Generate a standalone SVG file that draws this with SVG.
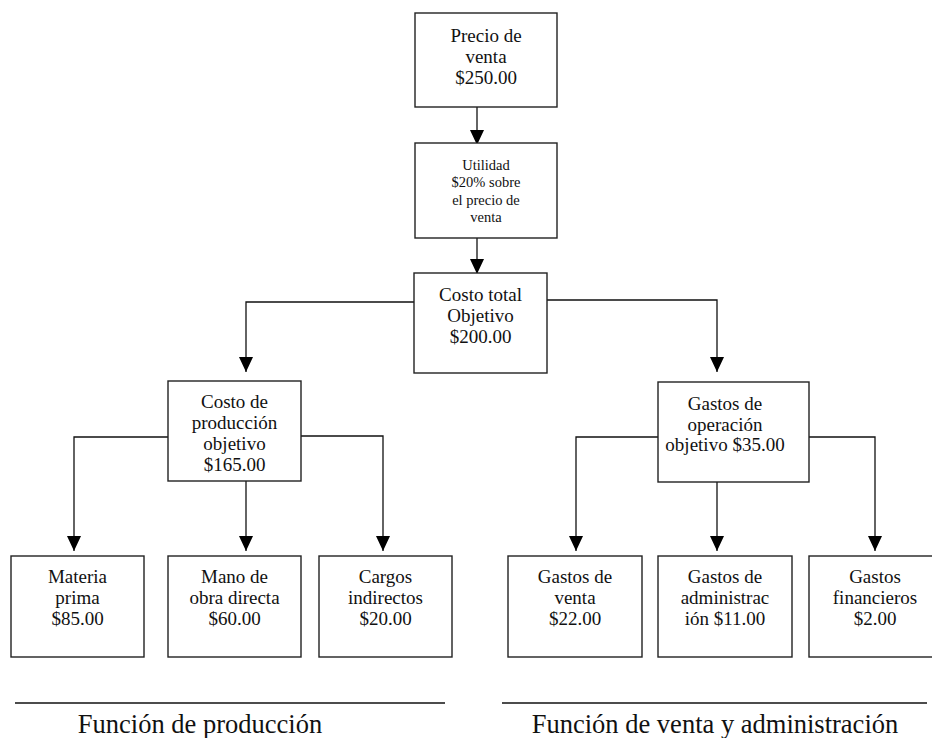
<svg xmlns="http://www.w3.org/2000/svg" width="932" height="738" viewBox="0 0 932 738">
<style>
.box{fill:#fff;stroke:#222;stroke-width:1.4}
.t{font-family:"Liberation Serif","Times New Roman",serif;font-size:19px;fill:#111;text-anchor:middle}
.s{font-size:14.5px}
.lbl{font-family:"Liberation Serif","Times New Roman",serif;font-size:26.5px;fill:#111;text-anchor:middle}
.c{fill:none;stroke:#111;stroke-width:1.3}
.rule{stroke:#111;stroke-width:1.3}
</style>
<defs>
<marker id="ah" markerUnits="userSpaceOnUse" markerWidth="15" markerHeight="14" refX="15" refY="7" orient="auto">
<path d="M0,0 L15,7 L0,14 z" fill="#000"/>
</marker>
</defs>
<rect width="932" height="738" fill="#fff"/>
<g id="connectors">
<path class="c" d="M477,107 V145" marker-end="url(#ah)"/>
<path class="c" d="M477,238 V274" marker-end="url(#ah)"/>
<path class="c" d="M414,302 H246 V372" marker-end="url(#ah)"/>
<path class="c" d="M547,300 H717 V372" marker-end="url(#ah)"/>
<path class="c" d="M168,437 H74 V551" marker-end="url(#ah)"/>
<path class="c" d="M246,481 V551" marker-end="url(#ah)"/>
<path class="c" d="M301,436 H383 V551" marker-end="url(#ah)"/>
<path class="c" d="M658,437 H576 V551" marker-end="url(#ah)"/>
<path class="c" d="M717,482 V551" marker-end="url(#ah)"/>
<path class="c" d="M809,437 H875 V551" marker-end="url(#ah)"/>
</g>
<g id="precio-venta">
<rect class="box" x="415" y="13" width="142" height="94"/>
<text class="t" x="486" y="42">Precio de</text>
<text class="t" x="486" y="63">venta</text>
<text class="t" x="486" y="84">$250.00</text>
</g>
<g id="utilidad">
<rect class="box" x="415" y="143" width="142" height="95"/>
<text class="t s" x="486" y="169.5">Utilidad</text>
<text class="t s" x="486" y="187">$20% sobre</text>
<text class="t s" x="486" y="204.5">el precio de</text>
<text class="t s" x="486" y="222">venta</text>
</g>
<g id="costo-total">
<rect class="box" x="414" y="273" width="133" height="100"/>
<text class="t" x="480.5" y="301">Costo total</text>
<text class="t" x="480.5" y="322">Objetivo</text>
<text class="t" x="480.5" y="343">$200.00</text>
</g>
<g id="costo-produccion">
<rect class="box" x="168" y="381" width="133" height="100"/>
<text class="t" x="234.5" y="408">Costo de</text>
<text class="t" x="234.5" y="429">producción</text>
<text class="t" x="234.5" y="450">objetivo</text>
<text class="t" x="234.5" y="471">$165.00</text>
</g>
<g id="gastos-operacion">
<rect class="box" x="658" y="382" width="151" height="100"/>
<text class="t" x="725" y="410">Gastos de</text>
<text class="t" x="725" y="431">operación</text>
<text class="t" x="725" y="451">objetivo $35.00</text>
</g>
<g id="materia-prima">
<rect class="box" x="11" y="556" width="133" height="101"/>
<text class="t" x="77.5" y="583">Materia</text>
<text class="t" x="77.5" y="604">prima</text>
<text class="t" x="77.5" y="625">$85.00</text>
</g>
<g id="mano-obra">
<rect class="box" x="168" y="556" width="133" height="101"/>
<text class="t" x="234.5" y="583">Mano de</text>
<text class="t" x="234.5" y="604">obra directa</text>
<text class="t" x="234.5" y="625">$60.00</text>
</g>
<g id="cargos-indirectos">
<rect class="box" x="319" y="556" width="133" height="101"/>
<text class="t" x="385.5" y="583">Cargos</text>
<text class="t" x="385.5" y="604">indirectos</text>
<text class="t" x="385.5" y="625">$20.00</text>
</g>
<g id="gastos-venta">
<rect class="box" x="508" y="556" width="134" height="101"/>
<text class="t" x="575" y="583">Gastos de</text>
<text class="t" x="575" y="604">venta</text>
<text class="t" x="575" y="625">$22.00</text>
</g>
<g id="gastos-administracion">
<rect class="box" x="658" y="556" width="134" height="101"/>
<text class="t" x="725" y="583">Gastos de</text>
<text class="t" x="725" y="604">administrac</text>
<text class="t" x="725" y="625">ión $11.00</text>
</g>
<g id="gastos-financieros">
<rect class="box" x="809" y="556" width="134" height="101"/>
<text class="t" x="875" y="583">Gastos</text>
<text class="t" x="875" y="604">financieros</text>
<text class="t" x="875" y="625">$2.00</text>
</g>
<g id="funcion-produccion">
<line class="rule" x1="15" y1="703" x2="445" y2="703"/>
<text class="lbl" x="200" y="733">Función de producción</text>
</g>
<g id="funcion-venta">
<line class="rule" x1="502" y1="703" x2="927" y2="703"/>
<text class="lbl" x="715" y="733">Función de venta y administración</text>
</g>
</svg>
